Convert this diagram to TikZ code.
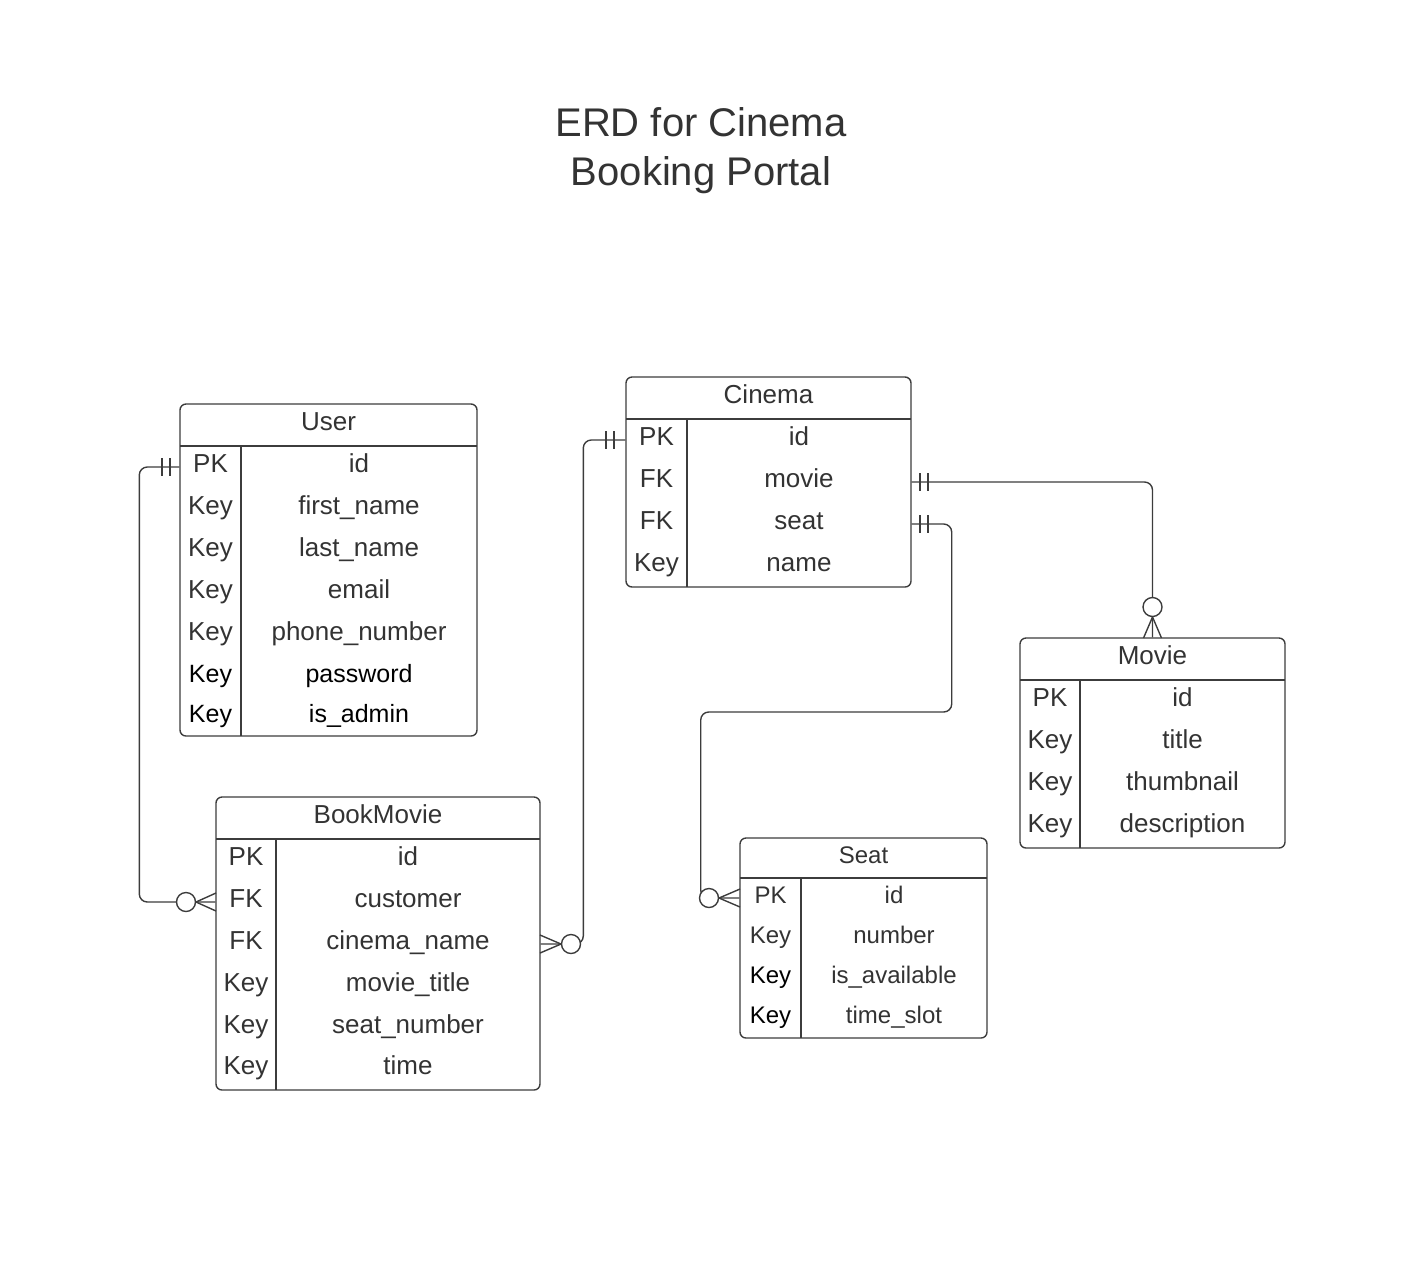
\documentclass[tikz,border=0pt]{standalone}
\usepackage{fontspec}
\setmainfont{Liberation Sans}
\usetikzlibrary{calc}
\definecolor{ink}{RGB}{51,51,51}
\definecolor{edge}{RGB}{60,60,60}
\tikzset{
  entity/.style={draw=edge, line width=0.7pt, rounded corners=3pt, inner sep=0pt},
  fld/.style={text=ink, inner sep=0pt, text height=9.5pt, text depth=4.2pt, font=\fontsize{13}{15}\selectfont},
  fldsm/.style={fld, font=\fontsize{12}{14}\selectfont},
  rel/.style={draw=edge, line width=0.7pt, rounded corners=4pt},
  onebar/.style={draw=edge, line width=0.7pt},
  zero/.style={draw=edge, fill=white, line width=0.7pt},
}
\begin{document}
\begin{tikzpicture}[x=0.5pt,y=0.5pt,yscale=-1,xscale=1]
\path[use as bounding box] (0,0) rectangle (1428,1265);

% Title
\node[anchor=base, text=ink, font=\fontsize{20}{24}\selectfont] (title-a) at (701,136) {ERD for Cinema};
\node[anchor=base, text=ink, font=\fontsize{20}{24}\selectfont] (title-b) at (701,185) {Booking Portal};

%Entity User
\node[entity, minimum width=148.5pt, minimum height=166pt] (user) at (328.5,570) {};
\draw[onebar] (180,446) -- (477,446);
\draw[onebar] (241,446) -- (241,736);
\node[fld] (user-head) at (328.5,425) {User};
\node[fld] (user-pk) at (210.5,467) {PK};
\node[fld] (user-id) at (359,467) {id};
\node[fld] (user-k1) at (210.5,509) {Key};
\node[fld] (user-first) at (359,509) {first\_name};
\node[fld] (user-k2) at (210.5,551) {Key};
\node[fld] (user-last) at (359,551) {last\_name};
\node[fld] (user-k3) at (210.5,593) {Key};
\node[fld] (user-email) at (359,593) {email};
\node[fld] (user-k4) at (210.5,635) {Key};
\node[fld] (user-phone) at (359,635) {phone\_number};
\node[fld, text=black, font=\fontsize{12.5}{14}\selectfont] (user-k5) at (210.5,677) {Key};
\node[fld, text=black, font=\fontsize{12.5}{14}\selectfont] (user-pass) at (359,677) {password};
\node[fld, text=black, font=\fontsize{12.5}{14}\selectfont] (user-k6) at (210.5,717) {Key};
\node[fld, text=black, font=\fontsize{12.5}{14}\selectfont] (user-admin) at (359,717) {is\_admin};

%Entity BookMovie
\node[entity, minimum width=162pt, minimum height=146.5pt] (book) at (378,943.5) {};
\draw[onebar] (216,839) -- (540,839);
\draw[onebar] (276,839) -- (276,1090);
\node[fld] (book-head) at (378,818) {BookMovie};
\node[fld] (book-pk) at (246,860) {PK};
\node[fld] (book-id) at (408,860) {id};
\node[fld] (book-fk1) at (246,902) {FK};
\node[fld] (book-customer) at (408,902) {customer};
\node[fld] (book-fk2) at (246,944) {FK};
\node[fld] (book-cinema) at (408,944) {cinema\_name};
\node[fld] (book-k1) at (246,986) {Key};
\node[fld] (book-title) at (408,986) {movie\_title};
\node[fld] (book-k2) at (246,1028) {Key};
\node[fld] (book-seat) at (408,1028) {seat\_number};
\node[fld] (book-k3) at (246,1069) {Key};
\node[fld] (book-time) at (408,1069) {time};

%Entity Cinema
\node[entity, minimum width=142.5pt, minimum height=105pt] (cinema) at (768.5,482) {};
\draw[onebar] (626,419) -- (911,419);
\draw[onebar] (687,419) -- (687,587);
\node[fld] (cinema-head) at (768.5,398) {Cinema};
\node[fld] (cinema-pk) at (656.5,440) {PK};
\node[fld] (cinema-id) at (799,440) {id};
\node[fld] (cinema-fk1) at (656.5,482) {FK};
\node[fld] (cinema-movie) at (799,482) {movie};
\node[fld] (cinema-fk2) at (656.5,524) {FK};
\node[fld] (cinema-seat) at (799,524) {seat};
\node[fld] (cinema-k1) at (656.5,566) {Key};
\node[fld] (cinema-name) at (799,566) {name};

%Entity Movie
\node[entity, minimum width=132.5pt, minimum height=105pt] (movie) at (1152.5,743) {};
\draw[onebar] (1020,680) -- (1285,680);
\draw[onebar] (1080,680) -- (1080,848);
\node[fld] (movie-head) at (1152.5,659) {Movie};
\node[fld] (movie-pk) at (1050,701) {PK};
\node[fld] (movie-id) at (1182.5,701) {id};
\node[fld] (movie-k1) at (1050,743) {Key};
\node[fld] (movie-title) at (1182.5,743) {title};
\node[fld] (movie-k2) at (1050,785) {Key};
\node[fld] (movie-thumb) at (1182.5,785) {thumbnail};
\node[fld] (movie-k3) at (1050,827) {Key};
\node[fld] (movie-desc) at (1182.5,827) {description};

%Entity Seat
\node[entity, minimum width=123.5pt, minimum height=100pt] (seat) at (863.5,938) {};
\draw[onebar] (740,878) -- (987,878);
\draw[onebar] (801,878) -- (801,1038);
\node[fldsm] (seat-head) at (863.5,858) {Seat};
\node[fldsm] (seat-pk) at (770.5,898) {PK};
\node[fldsm] (seat-id) at (894,898) {id};
\node[fldsm] (seat-k1) at (770.5,938) {Key};
\node[fldsm] (seat-number) at (894,938) {number};
\node[fldsm, text=black] (seat-k2) at (770.5,978) {Key};
\node[fldsm] (seat-avail) at (894,978) {is\_available};
\node[fldsm, text=black] (seat-k3) at (770.5,1018) {Key};
\node[fldsm] (seat-slot) at (894,1018) {time\_slot};

%Relations
\draw[rel] (user.west |- user-id) -- ++(-40,0) |- (book.west |- book-customer);
\draw[rel] (cinema.west |- cinema-id) -- ++(-42,0) |- (book.east |- book-cinema);
\draw[rel] (cinema.east |- cinema-movie) -| (movie.north);
\draw[rel] (cinema.east |- cinema-seat) -- ++(40,0) -- ++(0,188) -- ++(-251,0) |- (seat.west |- seat-id);

%One and only one
\draw[onebar] (170,458) -- (170,476);
\draw[onebar] (162,458) -- (162,476);
\draw[onebar] (614,431) -- (614,449);
\draw[onebar] (606,431) -- (606,449);
\draw[onebar] (920,473) -- (920,491);
\draw[onebar] (928,473) -- (928,491);
\draw[onebar] (920,515) -- (920,533);
\draw[onebar] (928,515) -- (928,533);

%Zero or many
\draw[onebar] (196,902) -- (216,893);
\draw[onebar] (196,902) -- (216,911);
\draw[zero] (186,902) circle (9.5);
\draw[onebar] (561,944) -- (540,935);
\draw[onebar] (561,944) -- (540,953);
\draw[zero] (571,944) circle (9.5);
\draw[onebar] (1152.5,617) -- (1143.5,638);
\draw[onebar] (1152.5,617) -- (1161.5,638);
\draw[zero] (1152.5,607) circle (9.5);
\draw[onebar] (719,898) -- (740,889);
\draw[onebar] (719,898) -- (740,907);
\draw[zero] (709,898) circle (9.5);

\end{tikzpicture}
\end{document}
